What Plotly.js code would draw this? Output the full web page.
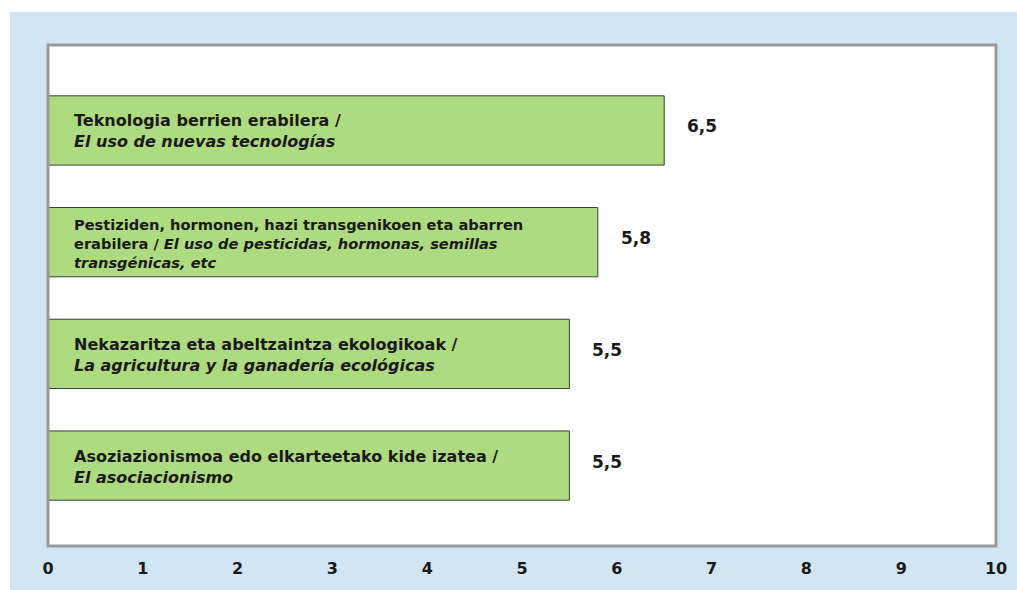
<!DOCTYPE html>
<html>
<head>
<meta charset="utf-8">
<script src="https://cdn.plot.ly/plotly-3.0.1.min.js"></script>
<style>
  html, body { margin: 0; padding: 0; background: #ffffff; width: 1017px; height: 590px; overflow: hidden; }
  #chart { position: absolute; left: 10px; top: 12px; width: 1007px; height: 578px; }
</style>
</head>
<body>
<div id="chart"></div>
<script>
// Data (index 0 = bottom bar)
const labelsEu = [
  "Asoziazionismoa edo elkarteetako kide izatea /",
  "Nekazaritza eta abeltzaintza ekologikoak /",
  "Pestiziden, hormonen, hazi transgenikoen eta abarren<br>erabilera / ",
  "Teknologia berrien erabilera /"
];
const labelsEs = [
  "El asociacionismo",
  "La agricultura y la ganadería ecológicas",
  "El uso de pesticidas, hormonas, semillas<br>transgénicas, etc",
  "El uso de nuevas tecnologías"
];
const inlineEs = [false, false, true, false];
const values = [5.5, 5.5, 5.8, 6.5];
const valueText = ["5,5", "5,5", "5,8", "6,5"];
const tickVals = [0,1,2,3,4,5,6,7,8,9,10];
const tickText = ["0","1","2","3","4","5","6","7","8","9","10"];

const pos = values.map((v, i) => i);
const font = "DejaVu Sans, Liberation Sans, Arial, sans-serif";
const textColor = "#1a1a1a";

const trace = {
  type: "bar",
  orientation: "h",
  x: values,
  y: pos,
  width: 0.62,
  marker: { color: "#addb7f", line: { color: "#3c3c3c", width: 1 } },
  hoverinfo: "none"
};

const annotations = [];
values.forEach((v, i) => {
  let txt;
  if (inlineEs[i]) {
    const parts = labelsEs[i].split("<br>");
    txt = "<b>" + labelsEu[i] + "<i>" + parts[0] + "</i></b><br><b><i>" + parts[1] + "</i></b>";
  } else {
    txt = "<b>" + labelsEu[i] + "</b><br><b><i>" + labelsEs[i] + "</i></b>";
  }
  annotations.push({
    x: 0, y: pos[i], xref: "x", yref: "y",
    text: txt, showarrow: false, xanchor: "left", yanchor: "middle", align: "left",
    xshift: 24, yshift: -1,
    font: { family: font, size: inlineEs[i] ? 14.6 : 16, color: textColor }
  });
  annotations.push({
    x: v, y: pos[i], xref: "x", yref: "y",
    text: "<b>" + valueText[i] + "</b>", showarrow: false, xanchor: "left", yanchor: "middle",
    xshift: 21, yshift: 4,
    font: { family: font, size: 17, color: textColor }
  });
});

const layout = {
  width: 1007, height: 578,
  margin: { l: 38, r: 21, t: 33, b: 44, pad: 0 },
  paper_bgcolor: "#d0e6f4",
  plot_bgcolor: "#ffffff",
  showlegend: false,
  xaxis: {
    range: [0, 10], tickvals: tickVals, ticktext: tickText,
    showgrid: false, zeroline: false, showline: false,
    ticks: "outside", ticklen: 8, tickcolor: "rgba(0,0,0,0)",
    tickfont: { family: font, size: 16, color: textColor, weight: "bold" },
    fixedrange: true
  },
  yaxis: {
    range: [-0.72, 3.765], showticklabels: false, showgrid: false, zeroline: false,
    showline: false, ticks: "", fixedrange: true
  },
  shapes: [{
    type: "rect", xref: "paper", yref: "paper", x0: 0, x1: 1, y0: 0, y1: 1,
    line: { color: "#999999", width: 3 }, layer: "above"
  }],
  annotations: annotations
};

Plotly.newPlot("chart", [trace], layout, { displayModeBar: false, staticPlot: true });
</script>
</body>
</html>
